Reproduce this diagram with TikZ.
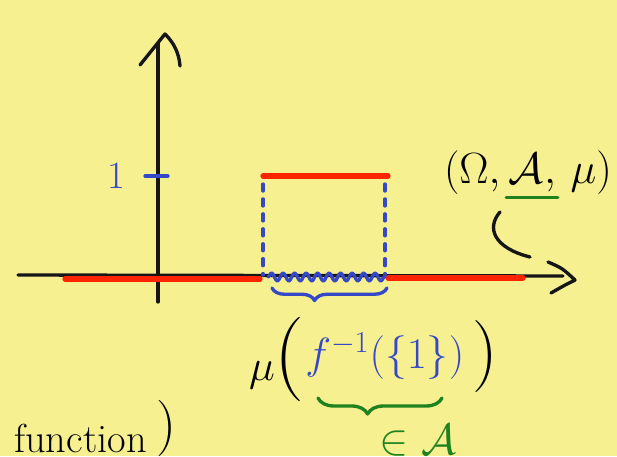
\documentclass[tikz,border=0pt]{standalone}
\usepackage{amsmath,amssymb}
\usetikzlibrary{calc,decorations.pathmorphing,decorations.pathreplacing}
\definecolor{ink}{HTML}{161616}
\definecolor{paper}{HTML}{F7F091}
\definecolor{red}{HTML}{FF2400}
\definecolor{blue}{HTML}{3448C8}
\definecolor{green}{HTML}{1F821F}

\begin{document}
\begin{tikzpicture}[x=0.02cm,y=-0.02cm,
    pen/.style={line width=1.9pt,line cap=round,line join=round},
    redbar/.style={red,line width=3pt,line cap=round},
    dashes/.style={pen,blue,dash pattern=on 4pt off 4.5pt},
    big/.style={font=\fontsize{#1}{#1}\selectfont,inner sep=0pt}]
        \useasboundingbox (0,0) rectangle (617,456);
        \fill[paper] (0,0) rectangle (617,456);
        \clip (0,0) rectangle (617,456);
        % axes
        \draw[pen,ink] (18,275) -- (563,276);
        \draw[pen,ink] (548,262) .. controls (562,268) .. (575,280) .. controls (565,285) .. (551,293);
        \draw[pen,ink] (158,302) -- (158,43);
        \draw[pen,ink] (140,65) -- (165,34) .. controls (174,43) and (179,53) .. (180,66);
        \draw[pen,blue] (145,176) -- (168,176);
        \node[big=22,text=blue] (one) at (116,176) {1};
        % indicator function
        \draw[redbar] (65,279) -- (260,279);
        \draw[redbar] (388,278) -- (523,278);
        \draw[redbar] (263,176) -- (388,176);
        \draw[dashes] (263,184) -- (263,275);
        \draw[dashes] (385,184) -- (385,275);
        \draw[pen,blue,decorate,decoration={snake,segment length=0.23cm,amplitude=0.08cm}] (268,277) -- (385,277);
        \draw[pen,blue,decorate,decoration={brace,mirror,amplitude=0.25cm,aspect=0.37}] (272,288) -- (387,288);
        % measure of the preimage
        \node[big=44,anchor=base east] (mu) at (305,380) {$\mu${\fontsize{48}{48}\selectfont(}};
        \node[big=23,anchor=base west,text=blue] (pre) at ($(mu.base east)+(0,-12)$) {$f^{-1}(\{1\})$};
        \node[big=41,anchor=base west] (rpar) at ($(pre.base east)+(8,6)$) {)};
        \draw[pen,green,decorate,decoration={brace,mirror,amplitude=0.32cm,aspect=0.4}] (318,398) -- (442,398);
        \node[big=25,anchor=base,text=green] (elt) at (418,454) {$\in\mathcal{A}$};
        % measure space
        \node[big=25,anchor=base] (sig) at (526,183) {$\mathcal{A}$};
        \node[big=25,anchor=base east] (lft) at (sig.base west) {$(\Omega,\,$};
        \node[big=25,anchor=base west] (rgt) at (sig.base east) {$,\,\mu)$};
        \draw[pen,green] ($(sig.south west)+(-2,14)$) -- ($(sig.south east)+(14,14)$);
        \draw[pen,ink] (500,212) .. controls (486,228) and (494,248) .. (530,257);
        % bottom left
        \node[big=23,anchor=base east] (fun) at (147,452) {function};
        \node[big=32,anchor=base] (fpar) at (166,442) {)};
      \end{tikzpicture}
\end{document}
